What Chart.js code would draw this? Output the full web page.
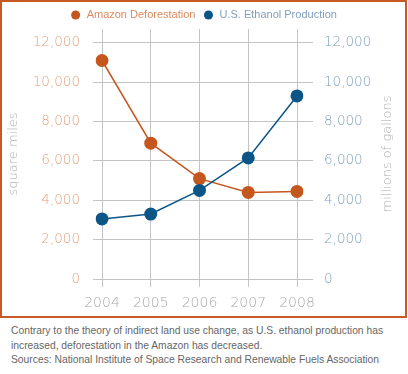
<!DOCTYPE html>
<html>
<head>
<meta charset="utf-8">
<script src="https://cdn.jsdelivr.net/npm/chart.js@4.4.1/dist/chart.umd.min.js"></script>
<style>
  body { margin: 0; background: #fff; }
  #frame { position: absolute; left: 0; top: 0; width: 403px; height: 314px; border: 2px solid #c75a22; background: #fff; }
  #caption { position: absolute; left: 11px; top: 324px; font: 10.3px "Liberation Sans", Arial, sans-serif; line-height: 14.5px; color: #666; white-space: nowrap; }
</style>
</head>
<body>
<div id="frame"><canvas id="chart"></canvas></div>
<div id="caption">Contrary to the theory of indirect land use change, as U.S. ethanol production has<br>increased, deforestation in the Amazon has decreased.<br>Sources: National Institute of Space Research and Renewable Fuels Association</div>
<script>
const years = ['2004', '2005', '2006', '2007', '2008'];
const deforestation = [11100, 6900, 5100, 4400, 4450];   // square miles
const ethanol = [3050, 3300, 4500, 6150, 9300];          // millions of gallons
const yTicks = [0, 2000, 4000, 6000, 8000, 10000, 12000];
const seriesNames = ['Amazon Deforestation', 'U.S. Ethanol Production'];

const orange = '#c5561e';
const blue = '#0c5687';
const gridColor = '#c4c4c4';
const tickFont = { family: 'DejaVu Sans', size: 13.5, weight: 200 };

// keep the legend from pushing the plot down too far
const legendHeight = {
  id: 'legendHeight',
  beforeInit(chart) {
    const fit = chart.legend.fit;
    chart.legend.fit = function () {
      fit.call(this);
      this.height = 27;
    };
  }
};

// right axis title reads bottom-to-top like the left one
const rightTitle = {
  id: 'rightTitle',
  afterDraw(chart) {
    const s = chart.scales.y2;
    const ctx = chart.ctx;
    ctx.save();
    ctx.translate(s.right - 17, (s.top + s.bottom) / 2);
    ctx.rotate(-Math.PI / 2);
    ctx.font = '200 13px "DejaVu Sans"';
    ctx.fillStyle = '#b0b0b0';
    ctx.textAlign = 'center';
    ctx.textBaseline = 'middle';
    ctx.fillText('millions of gallons', 0, 0);
    ctx.restore();
  }
};

const setTicks = axis => { axis.ticks = yTicks.map(v => ({ value: v })); };

new Chart(document.getElementById('chart'), {
  type: 'line',
  data: {
    labels: years,
    datasets: [
      {
        label: seriesNames[0],
        data: deforestation,
        yAxisID: 'y',
        borderColor: orange,
        backgroundColor: orange,
        borderWidth: 1.5,
        pointRadius: 6.5,
        pointBorderWidth: 0,
        pointBackgroundColor: orange,
        order: 1
      },
      {
        label: seriesNames[1],
        data: ethanol,
        yAxisID: 'y2',
        borderColor: blue,
        backgroundColor: blue,
        borderWidth: 1.5,
        pointRadius: 6.5,
        pointBorderWidth: 0,
        pointBackgroundColor: blue,
        order: 0
      }
    ]
  },
  options: {
    responsive: true,
    maintainAspectRatio: false,
    animation: false,
    layout: { padding: 0 },
    plugins: {
      tooltip: { enabled: false },
      legend: {
        position: 'top',
        labels: {
          font: { family: 'Liberation Sans', size: 11 },
          padding: 7.5,
          usePointStyle: true,
          boxHeight: 6.4,
          generateLabels: () => [
            { text: seriesNames[0], fillStyle: orange, strokeStyle: orange, lineWidth: 0, pointStyle: 'circle', fontColor: '#d98b60', hidden: false, datasetIndex: 0 },
            { text: seriesNames[1], fillStyle: blue, strokeStyle: blue, lineWidth: 0, pointStyle: 'circle', fontColor: '#82a0bc', hidden: false, datasetIndex: 1 }
          ]
        }
      }
    },
    scales: {
      x: {
        type: 'category',
        offset: false,
        border: { display: false },
        grid: { color: gridColor, lineWidth: 1, tickLength: 8 },
        ticks: { color: '#a8a8a8', font: { family: 'DejaVu Sans', size: 14, weight: 200 }, padding: 8, maxRotation: 0 },
        afterFit: s => { s.height = 37; }
      },
      y: {
        position: 'left',
        min: 0,
        max: 12700,
        afterBuildTicks: setTicks,
        border: { display: false },
        grid: { color: gridColor, lineWidth: 1, tickLength: 9 },
        ticks: { color: '#e3a07c', font: tickFont, padding: 13, callback: v => v.toLocaleString('en-US') },
        title: {
          display: true,
          text: 'square miles',
          color: '#b0b0b0',
          font: { family: 'DejaVu Sans', size: 13, weight: 200 },
          padding: { top: 4, bottom: 0 }
        },
        afterFit: s => { s.width = 100; }
      },
      y2: {
        position: 'right',
        min: 0,
        max: 12700,
        afterBuildTicks: setTicks,
        border: { display: false },
        grid: { drawOnChartArea: false, color: gridColor, lineWidth: 1, tickLength: 16 },
        ticks: { color: '#7f9fbd', font: tickFont, padding: 11, callback: v => v.toLocaleString('en-US') },
        afterFit: s => { s.width = 108; }
      }
    }
  },
  plugins: [legendHeight, rightTitle]
});
</script>
</body>
</html>
